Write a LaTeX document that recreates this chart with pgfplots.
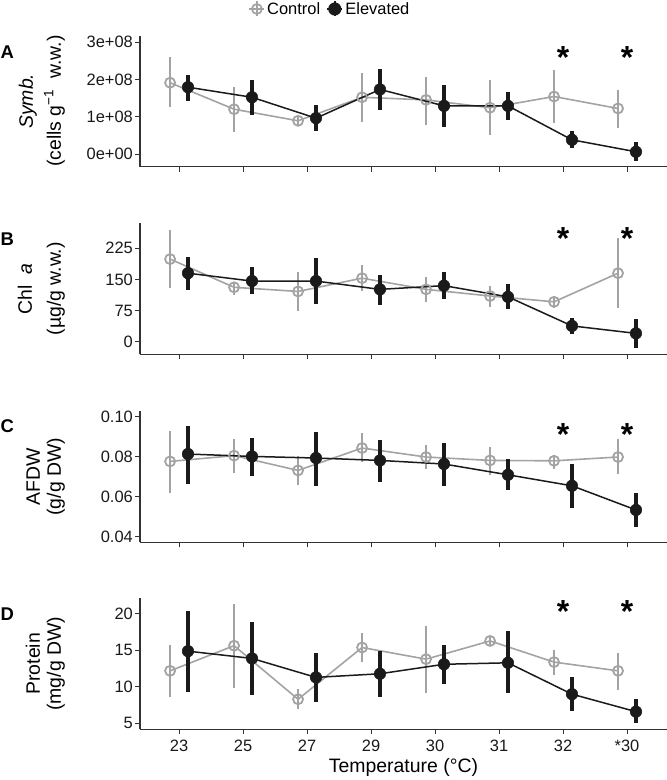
\documentclass[border=0pt]{standalone}
\usepackage{fontspec}
\setmainfont{Liberation Sans}
\usepackage{pgfplots}
\usepackage{pgfplotstable}
\pgfplotsset{compat=1.18}
\definecolor{ctrl}{HTML}{A3A3A3}
\definecolor{elev}{HTML}{1A1A1A}
\definecolor{axc}{HTML}{333333}

% Panel A (cells, in units of 1e8)
\pgfplotstableread{
x y lo hi
0 1.91 1.25 2.59
1 1.20 0.59 1.79
2 0.89 0.75 1.02
3 1.52 0.86 2.18
4 1.45 0.79 2.07
5 1.24 0.50 1.98
6 1.54 0.84 2.25
7 1.22 0.71 1.72
}\Ac
\pgfplotstableread{
x y lo hi
0 1.79 1.42 2.13
1 1.52 1.05 1.98
2 0.96 0.62 1.31
3 1.73 1.18 2.28
4 1.29 0.73 1.85
5 1.29 0.91 1.67
6 0.38 0.15 0.62
7 0.06 -0.20 0.33
}\Ae
% Panel B
\pgfplotstableread{
x y lo hi
0 199 130 269
1 131 112 142
2 121 74 167
3 153 123 185
4 126 95 157
5 110 84 135
6 96 80 110
7 165 80 249
}\Bc
\pgfplotstableread{
x y lo hi
0 165 125 205
1 146 114 179
2 146 90 201
3 126 88 161
4 135 104 167
5 108 79 138
6 38 18 56
7 20 -16 55
}\Be
% Panel C
\pgfplotstableread{
x y lo hi
0 0.0777 0.0621 0.0928
1 0.0806 0.0718 0.0889
2 0.0732 0.0660 0.0802
3 0.0844 0.0772 0.0920
4 0.0799 0.0739 0.0858
5 0.0782 0.0710 0.0849
6 0.0780 0.0739 0.0811
7 0.0799 0.0713 0.0889
}\Cc
\pgfplotstableread{
x y lo hi
0 0.0814 0.0665 0.0953
1 0.0802 0.0702 0.0894
2 0.0794 0.0656 0.0925
3 0.0782 0.0673 0.0886
4 0.0764 0.0655 0.0869
5 0.0710 0.0635 0.0789
6 0.0655 0.0546 0.0764
7 0.0534 0.0450 0.0618
}\Ce
% Panel D
\pgfplotstableread{
x y lo hi
0 12.2 8.66 15.8
1 15.65 9.9 21.3
2 8.3 6.9 9.66
3 15.4 13.4 17.4
4 13.8 9.1 18.3
5 16.3 15.6 17.0
6 13.4 11.6 15.1
7 12.2 9.6 14.7
}\Dc
\pgfplotstableread{
x y lo hi
0 14.9 9.3 20.4
1 13.9 8.9 18.9
2 11.3 7.9 14.7
3 11.8 8.66 14.9
4 13.1 10.4 15.8
5 13.3 9.1 17.6
6 9.0 6.7 11.3
7 6.6 5.0 8.3
}\De

\pgfplotsset{
  panel/.style={width=527bp,height=131bp,scale only axis,
    xmin=-0.61,xmax=7.625,xtick={0,...,7},xticklabels={},
    axis lines*=left,tick align=outside,major tick length=5bp,
    axis line style={line width=1.1bp,color=axc},
    major tick style={line width=1bp,color=axc},
    tick label style={font=\fontsize{16.5}{16.5}\selectfont,color=black!90,inner sep=1bp},
    yticklabel style={xshift=-1bp},
    clip=false,anchor=south west},
  ctrl/.style={color=ctrl,line width=1.6bp,mark=o,mark size=5bp,
    mark options={line width=1.8bp,fill=none,solid},
    error bars/y dir=both,error bars/y explicit,error bars/error mark=none,
    error bars/error bar style={line width=2.6bp,color=ctrl}},
  elev/.style={color=elev,line width=1.5bp,mark=*,mark size=5.8bp,
    mark options={line width=0.5bp,fill=elev,draw=elev,solid},
    error bars/y dir=both,error bars/y explicit,error bars/error mark=none,
    error bars/error bar style={line width=3.1bp,color=elev}},
  table/ctab/.style={x expr=\thisrow{x}-0.14,y=y,
    y error plus expr=\thisrow{hi}-\thisrow{y},y error minus expr=\thisrow{y}-\thisrow{lo}},
  table/etab/.style={x expr=\thisrow{x}+0.14,y=y,
    y error plus expr=\thisrow{hi}-\thisrow{y},y error minus expr=\thisrow{y}-\thisrow{lo}},
}

\begin{document}
\begin{tikzpicture}
\useasboundingbox (0,0) rectangle (667bp,780bp);
\tikzset{ast/.style={font=\bfseries\fontsize{32}{32}\selectfont,inner sep=0pt,anchor=north},
  ylab/.style={rotate=90,anchor=south,align=center,inner sep=0pt,font=\fontsize{19.5}{21}\selectfont},
  plab/.style={anchor=west,inner sep=0pt,font=\bfseries\fontsize{18.5}{18.5}\selectfont}}
% ---- A
\begin{axis}[panel,at={(140bp,613.3bp)},ymin=-0.34,ymax=3.17,
  ytick={0,1,2,3},yticklabels={0e+00,1e+08,2e+08,3e+08},
  legend style={at={(0.3605,1.204)},anchor=center,draw=none,fill=none,
    legend columns=2,font=\fontsize{16.5}{16.5}\selectfont,
    /tikz/every even column/.append style={column sep=4bp},
    nodes={inner sep=2bp}}]
\addplot[ctrl,legend image code/.code={
  \draw[ctrl,line width=1.6bp] (-7.5bp,0)--(7.5bp,0) (0,-7.5bp)--(0,7.5bp);
  \draw[ctrl,line width=1.7bp] (0,0) circle (5bp);}] table[ctab] {\Ac};
\addlegendentry{Control}
\addplot[elev,legend image code/.code={
  \draw[elev,line width=2.2bp] (-7.5bp,0)--(7.5bp,0) (0,-7.5bp)--(0,7.5bp);
  \fill[elev] (0,0) circle (5.8bp);}] table[etab] {\Ae};
\addlegendentry{Elevated}
\node[ast] at (axis cs:6,2.88) {*};
\node[ast] at (axis cs:7,2.88) {*};
\end{axis}
% ---- B
\begin{axis}[panel,at={(140bp,425.7bp)},ymin=-30.4,ymax=285.2,
  ytick={0,75,150,225},yticklabels={0,75,150,225}]
\addplot[ctrl] table[ctab] {\Bc};
\addplot[elev] table[etab] {\Be};
\node[ast] at (axis cs:6,276) {*};
\node[ast] at (axis cs:7,276) {*};
\end{axis}
% ---- C
\begin{axis}[panel,at={(140bp,237.7bp)},ymin=0.0372,ymax=0.1028,
  ytick={0.04,0.06,0.08,0.10},yticklabels={0.04,0.06,0.08,0.10}]
\addplot[ctrl] table[ctab] {\Cc};
\addplot[elev] table[etab] {\Ce};
\node[ast] at (axis cs:6,0.0970) {*};
\node[ast] at (axis cs:7,0.0970) {*};
\end{axis}
% ---- D
\begin{axis}[panel,at={(140bp,50.7bp)},ymin=4.18,ymax=22.15,
  ytick={5,10,15,20},yticklabels={5,10,15,20},
  xticklabels={23,25,27,29,30,31,32,*30},
  xticklabel style={yshift=-4.5bp},
  xlabel={Temperature (°C)},
  xlabel style={at={(axis description cs:0.5,-0.295)},anchor=center,
    font=\fontsize{19.5}{21}\selectfont,inner sep=0pt}]
\addplot[ctrl] table[ctab] {\Dc};
\addplot[elev] table[etab] {\De};
\node[ast] at (axis cs:6,21.9) {*};
\node[ast] at (axis cs:7,21.9) {*};
\end{axis}
% y labels
\node[ylab] at (65bp,678.8bp) {\textit{Symb.}\\[7bp](cells g\textsuperscript{−1}\ \ w.w.)};
\node[ylab] at (65bp,491.2bp) {Chl\ \ \textit{a}\\[8bp](µg/g w.w.)};
\node[ylab] at (65bp,303.2bp) {AFDW\\(g/g DW)};
\node[ylab] at (65bp,116.2bp) {Protein\\(mg/g DW)};
% panel letters
\node[plab] at (0.5bp,727.5bp) {A};
\node[plab] at (0.5bp,541bp) {B};
\node[plab] at (0.5bp,354bp) {C};
\node[plab] at (0.5bp,166bp) {D};
\end{tikzpicture}
\end{document}
